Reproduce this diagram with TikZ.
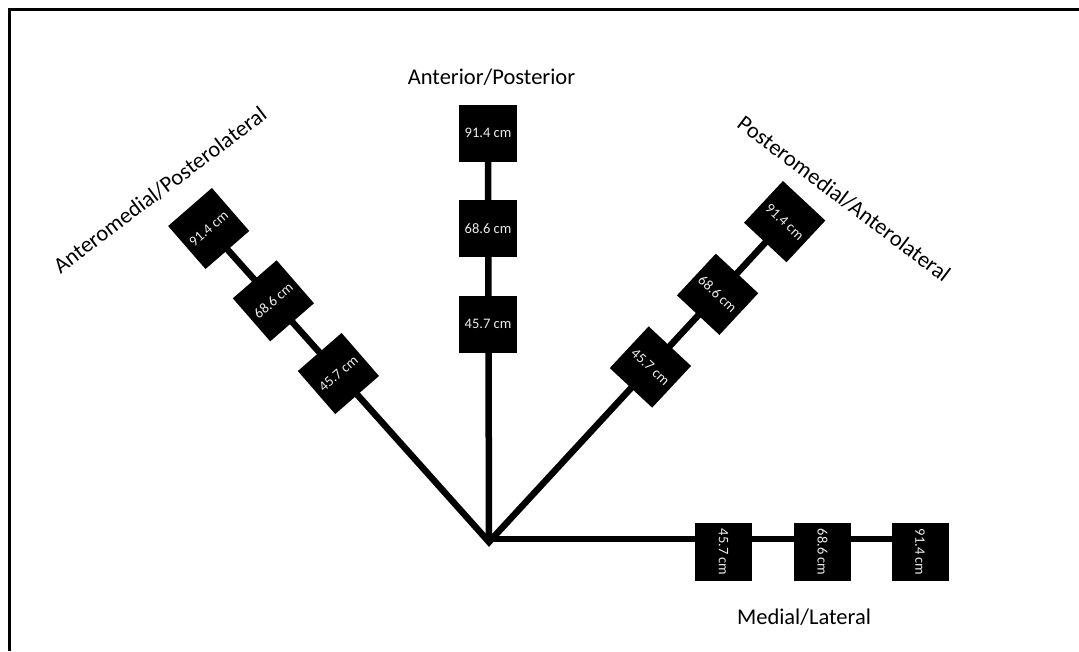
\documentclass[tikz,border=0pt]{standalone}
\usepackage{fontspec}
\setmainfont{Carlito}
\usetikzlibrary{backgrounds}
\begin{document}
\begin{tikzpicture}[x=1pt,y=-1pt,
  sq/.style={fill=black, minimum width=58pt, minimum height=57pt, inner sep=0pt, text=white!92!black, font=\fontsize{14.5}{16}\selectfont},
  arm/.style={line width=6.5pt},
  lab/.style={font=\fontsize{22.5}{26}\selectfont, inner sep=0pt}]
\useasboundingbox (0,0) rectangle (1079,651);

\coordinate (hub) at (489,542);
\coordinate (hubh) at (489,539);

% vertical arm
\node[sq] (a1) at (488,324) {45.7 cm};
\node[sq] (a2) at (488,228.5) {68.6 cm};
\node[sq] (a3) at (488,133) {91.4 cm};

% left diagonal arm
\node[sq, rotate=41] (l1) at (338.4,373.5) {45.7 cm};
\node[sq, rotate=41] (l2) at (273.4,300.8) {68.6 cm};
\node[sq, rotate=41] (l3) at (208.7,228.5) {91.4 cm};

% right diagonal arm
\node[sq, rotate=-43] (r1) at (650.4,367) {45.7 cm};
\node[sq, rotate=-43] (r2) at (717.6,294.3) {68.6 cm};
\node[sq, rotate=-43] (r3) at (784.7,221.6) {91.4 cm};

% horizontal arm
\node[sq, rotate=-90] (h1) at (723.5,552) {45.7 cm};
\node[sq, rotate=-90] (h2) at (822.5,552) {68.6 cm};
\node[sq, rotate=-90] (h3) at (920,552) {91.4 cm};

% labels
\node[lab] (tA) at (491.5,77) {Anterior/Posterior};
\node[lab, rotate=37] (tL) at (160,190) {Anteromedial/Posterolateral};
\node[lab, rotate=-37] (tR) at (844,199) {Posteromedial/Anterolateral};
\node[lab] (tM) at (804,617) {Medial/Lateral};

\begin{scope}[on background layer]
\fill[white] (0,0) rectangle (1079,651);
\draw[line width=3pt, line join=miter] (9.8,651) -- (9.8,9.7) -- (1079,9.7);
\draw[arm, line join=miter] (l3.center) -- (hub) -- (r3.center);
\draw[arm] (hub) -- (a3.center);
\draw[arm] (hubh) -- (hubh -| h3.center);
\end{scope}
\end{tikzpicture}
\end{document}
